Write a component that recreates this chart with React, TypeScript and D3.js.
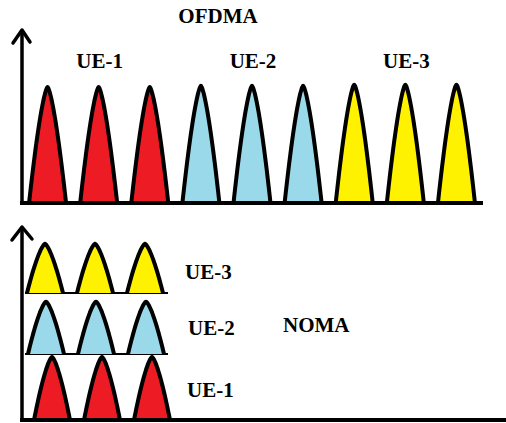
import React from "react";
import * as d3 from "d3";

// ---- data ----
const ofdmaSubcarriers = [0, 1, 2, 3, 4, 5, 6, 7, 8];
const ofdmaUsers = ["UE-1", "UE-1", "UE-1", "UE-2", "UE-2", "UE-2", "UE-3", "UE-3", "UE-3"];
const ofdmaPower = [1, 1, 1, 1.01, 1.01, 1.01, 1.02, 1.02, 1.02];
const ofdmaGroupLabels = ["UE-1", "UE-2", "UE-3"];

const nomaUsers = ["UE-1", "UE-2", "UE-3"];
const nomaSubcarriers = [0, 1, 2];
const nomaPower = [1.0, 0.83, 0.78];

const userColors = ["#ed1c24", "#99d9ea", "#fff200"];

const W = 506;
const H = 423;

const color = d3.scaleOrdinal<string, string>().domain(nomaUsers).range(userColors);

// arch profile
function archPath(cx: number, base: number, halfW: number, h: number) {
  const ts = d3.range(-1, 1.0001, 0.05);
  const pts: [number, number][] = ts.map((t) => [cx + t * halfW, base - h * (1 - Math.pow(Math.abs(t), 1.45))]);
  return d3.line().curve(d3.curveCatmullRom)(pts) as string;
}

export default function App() {
  // top panel
  const topAxisX = 22;
  const topBase = 203;
  const xTop = d3.scaleBand<number>().domain(ofdmaSubcarriers).range([23, 483]);
  const yTop = d3.scaleLinear().domain([0, 1]).range([topBase, 87]);

  // bottom panel
  const botBase = 420;
  const rowBase = [420, 354, 293];
  const rowOffset = [7, 1, 0];
  const xBot = d3.scaleBand<number>().domain(nomaSubcarriers).range([20, 170]);
  const yBot = d3.scaleLinear().domain([0, 1]).range([0, 63]);

  const font = "'Liberation Serif', 'Times New Roman', serif";

  return (
    <svg width={W} height={H} style={{ position: "absolute", left: 0, top: 0, background: "#fff" }}>
      {/* OFDMA */}
      <text x={218} y={23} textAnchor="middle" fontFamily={font} fontWeight="bold" fontSize={21}>OFDMA</text>
      {ofdmaGroupLabels.map((g) => {
        const idx = ofdmaSubcarriers.filter((_, k) => ofdmaUsers[k] === g);
        const cx = (xTop(idx[0])! + xTop(idx[idx.length - 1])! + xTop.bandwidth()) / 2;
        return (
          <text key={g} x={cx} y={68} textAnchor="middle" fontFamily={font} fontWeight="bold" fontSize={21}>{g}</text>
        );
      })}
      {ofdmaSubcarriers.map((s, i) => (
        <path
          key={s}
          d={archPath(xTop(s)! + xTop.bandwidth() / 2 - 1, topBase, 18.5, topBase - yTop(ofdmaPower[i]))}
          fill={color(ofdmaUsers[i])}
          stroke="#000"
          strokeWidth={4}
          strokeLinejoin="round"
        />
      ))}
      <line x1={topAxisX} y1={31} x2={topAxisX} y2={205} stroke="#000" strokeWidth={3.5} />
      <line x1={20} y1={topBase} x2={483} y2={topBase} stroke="#000" strokeWidth={4} />
      <polyline points={`13,43 ${topAxisX},30 30,42`} fill="none" stroke="#000" strokeWidth={3.5} strokeLinejoin="round" strokeLinecap="round" />

      {/* NOMA */}
      {nomaUsers.map((u, r) => (
        <g key={u}>
          {r > 0 && <line x1={25} y1={rowBase[r]} x2={168} y2={rowBase[r]} stroke="#000" strokeWidth={2} />}
          {nomaSubcarriers.map((s) => (
            <path
              key={s}
              d={archPath(xBot(s)! + xBot.bandwidth() / 2 + rowOffset[r], rowBase[r], 18, yBot(nomaPower[r]))}
              fill={color(u)}
              stroke="#000"
              strokeWidth={4}
              strokeLinejoin="round"
            />
          ))}
        </g>
      ))}
      <text x={185} y={279} fontFamily={font} fontWeight="bold" fontSize={21}>UE-3</text>
      <text x={188} y={335} fontFamily={font} fontWeight="bold" fontSize={21}>UE-2</text>
      <text x={187} y={397} fontFamily={font} fontWeight="bold" fontSize={21}>UE-1</text>
      <text x={283} y={332} fontFamily={font} fontWeight="bold" fontSize={21}>NOMA</text>
      <line x1={22} y1={228} x2={22} y2={421} stroke="#000" strokeWidth={3.5} />
      <line x1={20} y1={botBase} x2={506} y2={botBase} stroke="#000" strokeWidth={4} />
      <polyline points={`12,240 22,227 32,239`} fill="none" stroke="#000" strokeWidth={3.5} strokeLinejoin="round" strokeLinecap="round" />
    </svg>
  );
}
